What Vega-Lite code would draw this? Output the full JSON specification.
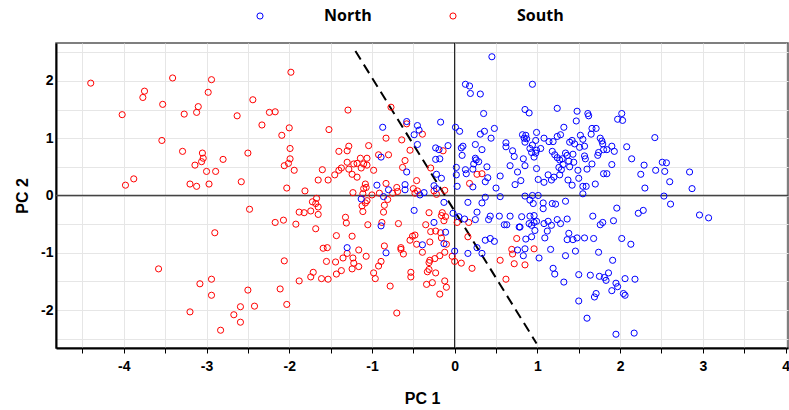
{
  "$schema": "https://vega.github.io/schema/vega-lite/v6.json",
  "width": 732,
  "height": 305,
  "autosize": "none",
  "padding": {"left": 56, "top": 43, "right": 1, "bottom": 62},
  "background": "white",
  "config": {
    "view": {"stroke": "#555555", "strokeWidth": 1.5},
    "axis": {
      "labelFont": "Liberation Sans", "labelFontSize": 14, "labelFontWeight": "bold", "labelColor": "#000000",
      "titleFont": "Liberation Sans", "titleFontSize": 16, "titleFontWeight": "bold", "titleColor": "#000000",
      "gridColor": "#e6e6e6", "gridWidth": 1,
      "domainColor": "#000000", "domainWidth": 2,
      "tickColor": "#000000", "labelOverlap": false
    }
  },
  "datasets": {
    "pts": [
      {"PC1":-4.40,"PC2":1.96,"Region":"South"},{"PC1":-4.02,"PC2":1.41,"Region":"South"},{"PC1":-3.98,"PC2":0.18,"Region":"South"},{"PC1":-3.88,"PC2":0.29,"Region":"South"},{"PC1":-3.75,"PC2":1.82,"Region":"South"},{"PC1":-3.77,"PC2":1.71,"Region":"South"},{"PC1":-3.41,"PC2":2.05,"Region":"South"},{"PC1":-3.53,"PC2":1.59,"Region":"South"},{"PC1":-3.54,"PC2":0.96,"Region":"South"},{"PC1":-3.27,"PC2":1.42,"Region":"South"},{"PC1":-3.29,"PC2":0.77,"Region":"South"},{"PC1":-2.94,"PC2":2.02,"Region":"South"},{"PC1":-2.98,"PC2":1.80,"Region":"South"},{"PC1":-3.10,"PC2":1.55,"Region":"South"},{"PC1":-3.12,"PC2":1.45,"Region":"South"},{"PC1":-3.05,"PC2":0.74,"Region":"South"},{"PC1":-3.04,"PC2":0.65,"Region":"South"},{"PC1":-3.06,"PC2":0.59,"Region":"South"},{"PC1":-3.14,"PC2":0.53,"Region":"South"},{"PC1":-3.00,"PC2":0.42,"Region":"South"},{"PC1":-2.89,"PC2":0.42,"Region":"South"},{"PC1":-2.80,"PC2":0.63,"Region":"South"},{"PC1":-3.20,"PC2":0.20,"Region":"South"},{"PC1":-3.12,"PC2":0.16,"Region":"South"},{"PC1":-2.97,"PC2":0.20,"Region":"South"},{"PC1":-2.63,"PC2":1.39,"Region":"South"},{"PC1":-2.44,"PC2":1.67,"Region":"South"},{"PC1":-2.58,"PC2":0.24,"Region":"South"},{"PC1":-2.50,"PC2":0.74,"Region":"South"},{"PC1":-2.33,"PC2":1.23,"Region":"South"},{"PC1":-2.24,"PC2":1.45,"Region":"South"},{"PC1":-2.17,"PC2":1.46,"Region":"South"},{"PC1":-2.09,"PC2":1.05,"Region":"South"},{"PC1":-2.06,"PC2":0.52,"Region":"South"},{"PC1":-2.00,"PC2":1.18,"Region":"South"},{"PC1":-2.01,"PC2":0.56,"Region":"South"},{"PC1":-1.99,"PC2":0.64,"Region":"South"},{"PC1":-2.03,"PC2":0.13,"Region":"South"},{"PC1":-1.98,"PC2":2.15,"Region":"South"},{"PC1":-1.99,"PC2":0.82,"Region":"South"},
      {"PC1":-2.48,"PC2":-0.24,"Region":"South"},{"PC1":-2.17,"PC2":-0.47,"Region":"South"},{"PC1":-2.07,"PC2":-0.43,"Region":"South"},{"PC1":-2.90,"PC2":-0.65,"Region":"South"},{"PC1":-2.06,"PC2":-1.14,"Region":"South"},{"PC1":-3.58,"PC2":-1.28,"Region":"South"},{"PC1":-2.94,"PC2":-1.46,"Region":"South"},{"PC1":-3.08,"PC2":-1.54,"Region":"South"},{"PC1":-2.94,"PC2":-1.74,"Region":"South"},{"PC1":-2.50,"PC2":-1.65,"Region":"South"},{"PC1":-2.11,"PC2":-1.63,"Region":"South"},{"PC1":-3.20,"PC2":-2.03,"Region":"South"},{"PC1":-2.67,"PC2":-2.08,"Region":"South"},{"PC1":-2.59,"PC2":-1.94,"Region":"South"},{"PC1":-2.42,"PC2":-1.93,"Region":"South"},{"PC1":-2.59,"PC2":-2.21,"Region":"South"},{"PC1":-2.83,"PC2":-2.35,"Region":"South"},{"PC1":-2.03,"PC2":-1.90,"Region":"South"},
      {"PC1":-1.29,"PC2":1.49,"Region":"South"},{"PC1":-0.77,"PC2":1.54,"Region":"South"},{"PC1":-1.52,"PC2":1.15,"Region":"South"},{"PC1":-1.94,"PC2":0.44,"Region":"South"},{"PC1":-1.81,"PC2":0.08,"Region":"South"},{"PC1":-1.67,"PC2":-0.05,"Region":"South"},{"PC1":-1.60,"PC2":0.45,"Region":"South"},{"PC1":-1.65,"PC2":0.27,"Region":"South"},{"PC1":-1.53,"PC2":0.27,"Region":"South"},{"PC1":-1.45,"PC2":0.36,"Region":"South"},{"PC1":-1.40,"PC2":0.44,"Region":"South"},{"PC1":-1.37,"PC2":0.48,"Region":"South"},{"PC1":-1.40,"PC2":0.77,"Region":"South"},{"PC1":-1.30,"PC2":0.78,"Region":"South"},{"PC1":-1.28,"PC2":0.86,"Region":"South"},{"PC1":-1.30,"PC2":0.58,"Region":"South"},{"PC1":-1.28,"PC2":0.46,"Region":"South"},{"PC1":-1.24,"PC2":0.37,"Region":"South"},{"PC1":-1.18,"PC2":0.32,"Region":"South"},{"PC1":-1.23,"PC2":0.05,"Region":"South"},{"PC1":-1.22,"PC2":0.55,"Region":"South"},{"PC1":-1.18,"PC2":0.56,"Region":"South"},{"PC1":-1.14,"PC2":0.65,"Region":"South"},{"PC1":-1.13,"PC2":0.48,"Region":"South"},{"PC1":-1.10,"PC2":0.55,"Region":"South"},{"PC1":-1.06,"PC2":0.65,"Region":"South"},{"PC1":-1.06,"PC2":0.53,"Region":"South"},{"PC1":-1.04,"PC2":0.87,"Region":"South"},{"PC1":-0.98,"PC2":0.44,"Region":"South"},{"PC1":-1.08,"PC2":0.20,"Region":"South"},{"PC1":-1.07,"PC2":0.14,"Region":"South"},{"PC1":-1.10,"PC2":0.12,"Region":"South"},{"PC1":-1.11,"PC2":0.03,"Region":"South"},{"PC1":-1.00,"PC2":0.01,"Region":"South"},{"PC1":-0.92,"PC2":0.71,"Region":"South"},{"PC1":-0.80,"PC2":0.71,"Region":"South"},{"PC1":-0.83,"PC2":1.00,"Region":"South"},{"PC1":-0.64,"PC2":0.97,"Region":"South"},{"PC1":-0.58,"PC2":1.25,"Region":"South"},{"PC1":-0.60,"PC2":0.61,"Region":"South"},{"PC1":-0.63,"PC2":0.49,"Region":"South"},{"PC1":-0.54,"PC2":0.79,"Region":"South"},{"PC1":-0.39,"PC2":1.07,"Region":"South"},{"PC1":-0.46,"PC2":0.26,"Region":"South"},{"PC1":-0.50,"PC2":0.12,"Region":"South"},{"PC1":-0.45,"PC2":0.08,"Region":"South"},{"PC1":-0.48,"PC2":0.04,"Region":"South"},{"PC1":-0.29,"PC2":0.48,"Region":"South"},{"PC1":-0.14,"PC2":0.78,"Region":"South"},{"PC1":-0.83,"PC2":0.21,"Region":"South"},{"PC1":-0.70,"PC2":0.14,"Region":"South"},{"PC1":-0.69,"PC2":0.07,"Region":"South"},{"PC1":-0.75,"PC2":0.04,"Region":"South"},{"PC1":-0.91,"PC2":0.04,"Region":"South"},{"PC1":-0.25,"PC2":0.08,"Region":"South"},{"PC1":-0.22,"PC2":0.02,"Region":"South"},{"PC1":-0.12,"PC2":0.09,"Region":"South"},{"PC1":0.27,"PC2":0.37,"Region":"South"},{"PC1":0.33,"PC2":0.38,"Region":"South"},{"PC1":0.18,"PC2":0.21,"Region":"South"},
      {"PC1":-1.72,"PC2":-0.11,"Region":"South"},{"PC1":-1.68,"PC2":-0.14,"Region":"South"},{"PC1":-1.65,"PC2":-0.20,"Region":"South"},{"PC1":-1.88,"PC2":-0.29,"Region":"South"},{"PC1":-1.82,"PC2":-0.30,"Region":"South"},{"PC1":-1.74,"PC2":-0.27,"Region":"South"},{"PC1":-1.65,"PC2":-0.33,"Region":"South"},{"PC1":-1.92,"PC2":-0.50,"Region":"South"},{"PC1":-1.68,"PC2":-0.58,"Region":"South"},{"PC1":-1.32,"PC2":-0.38,"Region":"South"},{"PC1":-1.31,"PC2":-0.48,"Region":"South"},{"PC1":-1.05,"PC2":-0.51,"Region":"South"},{"PC1":-1.43,"PC2":-0.70,"Region":"South"},{"PC1":-1.24,"PC2":-0.71,"Region":"South"},{"PC1":-1.59,"PC2":-0.92,"Region":"South"},{"PC1":-1.54,"PC2":-0.91,"Region":"South"},{"PC1":-1.55,"PC2":-1.15,"Region":"South"},{"PC1":-1.44,"PC2":-1.16,"Region":"South"},{"PC1":-1.35,"PC2":-1.09,"Region":"South"},{"PC1":-1.30,"PC2":-1.01,"Region":"South"},{"PC1":-1.23,"PC2":-1.09,"Region":"South"},{"PC1":-1.22,"PC2":-1.18,"Region":"South"},{"PC1":-1.16,"PC2":-0.95,"Region":"South"},{"PC1":-1.24,"PC2":-1.28,"Region":"South"},{"PC1":-1.16,"PC2":-1.24,"Region":"South"},{"PC1":-1.07,"PC2":-1.06,"Region":"South"},{"PC1":-1.37,"PC2":-1.31,"Region":"South"},{"PC1":-1.43,"PC2":-1.37,"Region":"South"},{"PC1":-1.71,"PC2":-1.34,"Region":"South"},{"PC1":-1.74,"PC2":-1.42,"Region":"South"},{"PC1":-1.61,"PC2":-1.45,"Region":"South"},{"PC1":-1.53,"PC2":-1.46,"Region":"South"},{"PC1":-1.88,"PC2":-1.49,"Region":"South"},{"PC1":-0.98,"PC2":-1.35,"Region":"South"},{"PC1":-0.96,"PC2":-1.45,"Region":"South"},{"PC1":-0.92,"PC2":-1.23,"Region":"South"},{"PC1":-0.89,"PC2":-1.15,"Region":"South"},{"PC1":-0.85,"PC2":-0.88,"Region":"South"},{"PC1":-0.78,"PC2":-1.58,"Region":"South"},{"PC1":-0.70,"PC2":-2.05,"Region":"South"},{"PC1":-0.68,"PC2":-0.49,"Region":"South"},{"PC1":-1.12,"PC2":-0.18,"Region":"South"},{"PC1":-1.11,"PC2":-0.28,"Region":"South"},{"PC1":-1.08,"PC2":-0.13,"Region":"South"},{"PC1":-1.06,"PC2":-0.09,"Region":"South"},{"PC1":-0.85,"PC2":-0.17,"Region":"South"},{"PC1":-0.86,"PC2":-0.29,"Region":"South"},{"PC1":-0.81,"PC2":-0.07,"Region":"South"},{"PC1":-0.88,"PC2":-0.47,"Region":"South"},{"PC1":-0.65,"PC2":-0.91,"Region":"South"},{"PC1":-0.65,"PC2":-0.94,"Region":"South"},{"PC1":-0.62,"PC2":-1.02,"Region":"South"},{"PC1":-0.54,"PC2":-0.78,"Region":"South"},{"PC1":-0.51,"PC2":-0.71,"Region":"South"},{"PC1":-0.48,"PC2":-0.69,"Region":"South"},{"PC1":-0.46,"PC2":-0.85,"Region":"South"},{"PC1":-0.39,"PC2":-0.99,"Region":"South"},{"PC1":-0.53,"PC2":-1.34,"Region":"South"},{"PC1":-0.53,"PC2":-1.42,"Region":"South"},{"PC1":-0.35,"PC2":-0.51,"Region":"South"},{"PC1":-0.31,"PC2":-0.30,"Region":"South"},{"PC1":-0.30,"PC2":-0.81,"Region":"South"},{"PC1":-0.31,"PC2":-1.17,"Region":"South"},{"PC1":-0.31,"PC2":-1.29,"Region":"South"},{"PC1":-0.33,"PC2":-1.33,"Region":"South"},{"PC1":-0.23,"PC2":-1.35,"Region":"South"},{"PC1":-0.34,"PC2":-1.55,"Region":"South"},{"PC1":-0.27,"PC2":-1.52,"Region":"South"},{"PC1":-0.12,"PC2":-1.49,"Region":"South"},{"PC1":-0.10,"PC2":-1.60,"Region":"South"},{"PC1":-0.18,"PC2":-1.72,"Region":"South"},{"PC1":-0.29,"PC2":-0.63,"Region":"South"},{"PC1":-0.23,"PC2":-0.62,"Region":"South"},{"PC1":-0.17,"PC2":-0.65,"Region":"South"},{"PC1":-0.16,"PC2":-0.74,"Region":"South"},{"PC1":-0.10,"PC2":-0.85,"Region":"South"},{"PC1":-0.12,"PC2":-0.99,"Region":"South"},{"PC1":-0.18,"PC2":-1.05,"Region":"South"},{"PC1":-0.24,"PC2":-1.10,"Region":"South"},{"PC1":-0.30,"PC2":-1.13,"Region":"South"},{"PC1":-0.03,"PC2":-1.06,"Region":"South"},{"PC1":0.00,"PC2":-1.15,"Region":"South"},{"PC1":0.08,"PC2":-1.18,"Region":"South"},{"PC1":0.21,"PC2":-1.27,"Region":"South"},{"PC1":-0.15,"PC2":-0.30,"Region":"South"},{"PC1":-0.16,"PC2":-0.35,"Region":"South"},{"PC1":-0.11,"PC2":-0.37,"Region":"South"},{"PC1":-0.13,"PC2":-0.44,"Region":"South"},{"PC1":0.03,"PC2":-0.47,"Region":"South"},{"PC1":0.17,"PC2":-0.47,"Region":"South"},{"PC1":0.16,"PC2":-0.72,"Region":"South"},{"PC1":0.55,"PC2":-1.13,"Region":"South"},{"PC1":0.62,"PC2":-1.46,"Region":"South"},{"PC1":0.69,"PC2":-0.94,"Region":"South"},{"PC1":0.70,"PC2":-1.02,"Region":"South"},{"PC1":0.72,"PC2":-1.19,"Region":"South"},{"PC1":0.75,"PC2":-0.75,"Region":"South"},{"PC1":0.96,"PC2":-0.93,"Region":"South"},{"PC1":0.85,"PC2":-1.21,"Region":"South"},
      {"PC1":0.45,"PC2":2.42,"Region":"North"},{"PC1":0.13,"PC2":1.94,"Region":"North"},{"PC1":0.18,"PC2":1.91,"Region":"North"},{"PC1":0.19,"PC2":1.78,"Region":"North"},{"PC1":0.31,"PC2":1.77,"Region":"North"},{"PC1":0.35,"PC2":1.43,"Region":"North"},{"PC1":-0.87,"PC2":1.19,"Region":"North"},{"PC1":-0.58,"PC2":1.29,"Region":"North"},{"PC1":-0.45,"PC2":1.22,"Region":"North"},{"PC1":-0.43,"PC2":1.14,"Region":"North"},{"PC1":-0.49,"PC2":1.06,"Region":"North"},{"PC1":-0.17,"PC2":1.28,"Region":"North"},{"PC1":-0.45,"PC2":0.89,"Region":"North"},{"PC1":-0.23,"PC2":0.83,"Region":"North"},{"PC1":-0.19,"PC2":0.80,"Region":"North"},{"PC1":-0.08,"PC2":0.87,"Region":"North"},{"PC1":-0.23,"PC2":0.63,"Region":"North"},{"PC1":-0.18,"PC2":0.64,"Region":"North"},{"PC1":-0.89,"PC2":0.67,"Region":"North"},{"PC1":-0.58,"PC2":0.41,"Region":"North"},{"PC1":-0.22,"PC2":0.37,"Region":"North"},{"PC1":-0.16,"PC2":0.30,"Region":"North"},{"PC1":-0.25,"PC2":0.17,"Region":"North"},{"PC1":-0.22,"PC2":0.12,"Region":"North"},{"PC1":-0.60,"PC2":0.19,"Region":"North"},{"PC1":-0.60,"PC2":0.10,"Region":"North"},{"PC1":-0.94,"PC2":0.18,"Region":"North"},{"PC1":-0.80,"PC2":0.10,"Region":"North"},{"PC1":-0.86,"PC2":-0.02,"Region":"North"},{"PC1":-1.13,"PC2":-0.06,"Region":"North"},{"PC1":-0.42,"PC2":0.01,"Region":"North"},{"PC1":-0.37,"PC2":0.05,"Region":"North"},{"PC1":0.01,"PC2":1.19,"Region":"North"},{"PC1":0.06,"PC2":1.12,"Region":"North"},{"PC1":0.36,"PC2":1.12,"Region":"North"},{"PC1":0.31,"PC2":1.07,"Region":"North"},{"PC1":0.48,"PC2":1.17,"Region":"North"},{"PC1":0.44,"PC2":1.00,"Region":"North"},{"PC1":0.08,"PC2":0.83,"Region":"North"},{"PC1":0.10,"PC2":0.86,"Region":"North"},{"PC1":0.09,"PC2":0.70,"Region":"North"},{"PC1":0.25,"PC2":0.89,"Region":"North"},{"PC1":0.33,"PC2":0.80,"Region":"North"},{"PC1":0.25,"PC2":0.65,"Region":"North"},{"PC1":0.26,"PC2":0.62,"Region":"North"},{"PC1":0.23,"PC2":0.55,"Region":"North"},{"PC1":0.29,"PC2":0.59,"Region":"North"},{"PC1":0.22,"PC2":0.46,"Region":"North"},{"PC1":0.39,"PC2":0.50,"Region":"North"},{"PC1":0.13,"PC2":0.45,"Region":"North"},{"PC1":0.02,"PC2":0.49,"Region":"North"},{"PC1":0.02,"PC2":0.36,"Region":"North"},{"PC1":0.14,"PC2":0.38,"Region":"North"},{"PC1":0.03,"PC2":0.16,"Region":"North"},{"PC1":0.22,"PC2":0.15,"Region":"North"},{"PC1":0.37,"PC2":0.24,"Region":"North"},{"PC1":0.40,"PC2":0.31,"Region":"North"},{"PC1":0.50,"PC2":0.13,"Region":"North"},{"PC1":0.55,"PC2":0.34,"Region":"North"},{"PC1":0.67,"PC2":0.52,"Region":"North"},{"PC1":0.62,"PC2":0.92,"Region":"North"},{"PC1":0.62,"PC2":0.85,"Region":"North"},{"PC1":0.70,"PC2":0.78,"Region":"North"},{"PC1":0.72,"PC2":0.68,"Region":"North"},{"PC1":0.76,"PC2":0.41,"Region":"North"},{"PC1":0.73,"PC2":0.19,"Region":"North"},
      {"PC1":-1.30,"PC2":-0.91,"Region":"North"},{"PC1":-0.83,"PC2":-1.00,"Region":"North"},{"PC1":-0.89,"PC2":-0.53,"Region":"North"},{"PC1":-0.49,"PC2":-0.26,"Region":"North"},{"PC1":-0.39,"PC2":-0.86,"Region":"North"},{"PC1":-0.25,"PC2":-0.47,"Region":"North"},{"PC1":-0.13,"PC2":-0.12,"Region":"North"},{"PC1":-0.13,"PC2":-0.84,"Region":"North"},{"PC1":-0.02,"PC2":-0.31,"Region":"North"},{"PC1":0.00,"PC2":-0.97,"Region":"North"},{"PC1":0.05,"PC2":-0.37,"Region":"North"},{"PC1":0.12,"PC2":-0.41,"Region":"North"},{"PC1":0.25,"PC2":-0.42,"Region":"North"},{"PC1":0.27,"PC2":-0.29,"Region":"North"},{"PC1":0.16,"PC2":-0.12,"Region":"North"},{"PC1":0.33,"PC2":-0.13,"Region":"North"},{"PC1":0.37,"PC2":-0.03,"Region":"North"},{"PC1":0.43,"PC2":-0.36,"Region":"North"},{"PC1":0.54,"PC2":-0.36,"Region":"North"},{"PC1":0.67,"PC2":-0.36,"Region":"North"},{"PC1":0.41,"PC2":-0.42,"Region":"North"},{"PC1":0.60,"PC2":-0.51,"Region":"North"},{"PC1":0.63,"PC2":-0.51,"Region":"North"},{"PC1":0.78,"PC2":-0.55,"Region":"North"},{"PC1":0.16,"PC2":-1.01,"Region":"North"},{"PC1":0.27,"PC2":-0.91,"Region":"North"},{"PC1":0.33,"PC2":-1.01,"Region":"North"},{"PC1":0.37,"PC2":-0.78,"Region":"North"},{"PC1":0.43,"PC2":-0.75,"Region":"North"},{"PC1":0.48,"PC2":-0.80,"Region":"North"},{"PC1":0.76,"PC2":-0.95,"Region":"North"},{"PC1":0.55,"PC2":-0.02,"Region":"North"},{"PC1":-0.11,"PC2":-0.64,"Region":"North"},
      {"PC1":0.94,"PC2":1.94,"Region":"North"},{"PC1":0.85,"PC2":1.50,"Region":"North"},{"PC1":0.90,"PC2":1.44,"Region":"North"},{"PC1":1.24,"PC2":1.52,"Region":"North"},{"PC1":1.48,"PC2":1.47,"Region":"North"},{"PC1":1.47,"PC2":1.30,"Region":"North"},{"PC1":1.61,"PC2":1.43,"Region":"North"},{"PC1":1.62,"PC2":1.39,"Region":"North"},{"PC1":2.02,"PC2":1.43,"Region":"North"},{"PC1":1.97,"PC2":1.33,"Region":"North"},{"PC1":2.03,"PC2":1.31,"Region":"North"},{"PC1":2.42,"PC2":1.01,"Region":"North"},{"PC1":1.32,"PC2":1.19,"Region":"North"},{"PC1":1.66,"PC2":1.17,"Region":"North"},{"PC1":1.71,"PC2":1.17,"Region":"North"},{"PC1":1.65,"PC2":1.07,"Region":"North"},{"PC1":0.99,"PC2":1.10,"Region":"North"},{"PC1":0.82,"PC2":1.06,"Region":"North"},{"PC1":0.86,"PC2":1.05,"Region":"North"},{"PC1":0.84,"PC2":1.00,"Region":"North"},{"PC1":0.87,"PC2":0.99,"Region":"North"},{"PC1":0.85,"PC2":0.93,"Region":"North"},{"PC1":0.98,"PC2":0.96,"Region":"North"},{"PC1":1.08,"PC2":1.00,"Region":"North"},{"PC1":1.14,"PC2":0.94,"Region":"North"},{"PC1":1.19,"PC2":0.94,"Region":"North"},{"PC1":1.24,"PC2":1.03,"Region":"North"},{"PC1":1.28,"PC2":1.06,"Region":"North"},{"PC1":1.52,"PC2":1.05,"Region":"North"},{"PC1":1.55,"PC2":0.98,"Region":"North"},{"PC1":1.76,"PC2":1.00,"Region":"North"},{"PC1":1.78,"PC2":0.95,"Region":"North"},{"PC1":1.79,"PC2":0.90,"Region":"North"},{"PC1":1.39,"PC2":0.93,"Region":"North"},{"PC1":1.42,"PC2":0.96,"Region":"North"},{"PC1":1.45,"PC2":0.90,"Region":"North"},{"PC1":0.94,"PC2":0.88,"Region":"North"},{"PC1":0.91,"PC2":0.82,"Region":"North"},{"PC1":0.99,"PC2":0.79,"Region":"North"},{"PC1":0.93,"PC2":0.75,"Region":"North"},{"PC1":0.98,"PC2":0.74,"Region":"North"},{"PC1":1.04,"PC2":0.82,"Region":"North"},{"PC1":0.83,"PC2":0.64,"Region":"North"},{"PC1":0.96,"PC2":0.67,"Region":"North"},{"PC1":0.85,"PC2":0.52,"Region":"North"},{"PC1":0.99,"PC2":0.47,"Region":"North"},{"PC1":1.18,"PC2":0.77,"Region":"North"},{"PC1":1.21,"PC2":0.71,"Region":"North"},{"PC1":1.24,"PC2":0.66,"Region":"North"},{"PC1":1.27,"PC2":0.62,"Region":"North"},{"PC1":1.30,"PC2":0.64,"Region":"North"},{"PC1":1.34,"PC2":0.74,"Region":"North"},{"PC1":1.36,"PC2":0.70,"Region":"North"},{"PC1":1.43,"PC2":0.72,"Region":"North"},{"PC1":1.51,"PC2":0.84,"Region":"North"},{"PC1":1.57,"PC2":0.86,"Region":"North"},{"PC1":1.57,"PC2":0.69,"Region":"North"},{"PC1":1.58,"PC2":0.64,"Region":"North"},{"PC1":1.38,"PC2":0.60,"Region":"North"},{"PC1":1.44,"PC2":0.58,"Region":"North"},{"PC1":1.26,"PC2":0.49,"Region":"North"},{"PC1":1.29,"PC2":0.45,"Region":"North"},{"PC1":1.31,"PC2":0.54,"Region":"North"},{"PC1":1.39,"PC2":0.50,"Region":"North"},{"PC1":1.49,"PC2":0.44,"Region":"North"},{"PC1":1.60,"PC2":0.46,"Region":"North"},{"PC1":1.66,"PC2":0.55,"Region":"North"},{"PC1":1.73,"PC2":0.70,"Region":"North"},{"PC1":1.74,"PC2":0.75,"Region":"North"},{"PC1":1.80,"PC2":0.80,"Region":"North"},{"PC1":1.84,"PC2":0.80,"Region":"North"},{"PC1":1.90,"PC2":0.86,"Region":"North"},{"PC1":1.93,"PC2":0.77,"Region":"North"},{"PC1":1.90,"PC2":0.54,"Region":"North"},{"PC1":1.80,"PC2":0.38,"Region":"North"},{"PC1":1.84,"PC2":0.38,"Region":"North"},{"PC1":2.08,"PC2":0.85,"Region":"North"},{"PC1":2.14,"PC2":0.64,"Region":"North"},{"PC1":2.29,"PC2":0.53,"Region":"North"},{"PC1":2.25,"PC2":0.37,"Region":"North"},{"PC1":2.43,"PC2":0.44,"Region":"North"},{"PC1":2.51,"PC2":0.58,"Region":"North"},{"PC1":2.56,"PC2":0.57,"Region":"North"},{"PC1":2.54,"PC2":0.42,"Region":"North"},{"PC1":2.60,"PC2":0.24,"Region":"North"},{"PC1":2.84,"PC2":0.41,"Region":"North"},{"PC1":2.87,"PC2":0.12,"Region":"North"},{"PC1":2.30,"PC2":0.13,"Region":"North"},{"PC1":2.53,"PC2":-0.01,"Region":"North"},{"PC1":1.70,"PC2":0.20,"Region":"North"},{"PC1":1.55,"PC2":0.16,"Region":"North"},{"PC1":1.59,"PC2":0.16,"Region":"North"},{"PC1":1.55,"PC2":0.03,"Region":"North"},{"PC1":1.50,"PC2":0.30,"Region":"North"},{"PC1":1.42,"PC2":0.18,"Region":"North"},{"PC1":1.37,"PC2":0.27,"Region":"North"},{"PC1":1.20,"PC2":0.32,"Region":"North"},{"PC1":1.13,"PC2":0.36,"Region":"North"},{"PC1":1.17,"PC2":0.27,"Region":"North"},{"PC1":1.08,"PC2":0.23,"Region":"North"},{"PC1":1.01,"PC2":0.28,"Region":"North"},{"PC1":1.27,"PC2":0.36,"Region":"North"},{"PC1":0.80,"PC2":0.26,"Region":"North"},{"PC1":0.85,"PC2":-0.01,"Region":"North"},{"PC1":0.94,"PC2":0.00,"Region":"North"},{"PC1":1.01,"PC2":0.00,"Region":"North"},
      {"PC1":0.91,"PC2":-0.08,"Region":"North"},{"PC1":0.95,"PC2":-0.14,"Region":"North"},{"PC1":1.07,"PC2":-0.13,"Region":"North"},{"PC1":1.07,"PC2":-0.23,"Region":"North"},{"PC1":1.18,"PC2":-0.14,"Region":"North"},{"PC1":1.22,"PC2":-0.15,"Region":"North"},{"PC1":1.34,"PC2":-0.10,"Region":"North"},{"PC1":1.96,"PC2":-0.22,"Region":"North"},{"PC1":1.67,"PC2":-0.36,"Region":"North"},{"PC1":1.92,"PC2":-0.44,"Region":"North"},{"PC1":1.76,"PC2":-0.51,"Region":"North"},{"PC1":1.79,"PC2":-0.47,"Region":"North"},{"PC1":2.22,"PC2":-0.31,"Region":"North"},{"PC1":2.28,"PC2":-0.26,"Region":"North"},{"PC1":2.61,"PC2":-0.15,"Region":"North"},{"PC1":2.96,"PC2":-0.34,"Region":"North"},{"PC1":3.07,"PC2":-0.39,"Region":"North"},{"PC1":0.81,"PC2":-0.37,"Region":"North"},{"PC1":0.91,"PC2":-0.36,"Region":"North"},{"PC1":0.96,"PC2":-0.35,"Region":"North"},{"PC1":0.90,"PC2":-0.49,"Region":"North"},{"PC1":0.96,"PC2":-0.47,"Region":"North"},{"PC1":0.99,"PC2":-0.45,"Region":"North"},{"PC1":0.93,"PC2":-0.52,"Region":"North"},{"PC1":0.97,"PC2":-0.61,"Region":"North"},{"PC1":0.79,"PC2":-0.55,"Region":"North"},{"PC1":1.08,"PC2":-0.49,"Region":"North"},{"PC1":1.13,"PC2":-0.45,"Region":"North"},{"PC1":1.17,"PC2":-0.52,"Region":"North"},{"PC1":1.12,"PC2":-0.62,"Region":"North"},{"PC1":1.24,"PC2":-0.42,"Region":"North"},{"PC1":1.28,"PC2":-0.49,"Region":"North"},{"PC1":1.36,"PC2":-0.41,"Region":"North"},{"PC1":0.93,"PC2":-0.72,"Region":"North"},{"PC1":0.86,"PC2":-0.76,"Region":"North"},{"PC1":1.09,"PC2":-0.74,"Region":"North"},{"PC1":1.38,"PC2":-0.66,"Region":"North"},{"PC1":1.36,"PC2":-0.77,"Region":"North"},{"PC1":1.43,"PC2":-0.77,"Region":"North"},{"PC1":1.48,"PC2":-0.74,"Region":"North"},{"PC1":1.57,"PC2":-0.74,"Region":"North"},{"PC1":1.68,"PC2":-0.75,"Region":"North"},{"PC1":2.02,"PC2":-0.75,"Region":"North"},{"PC1":2.13,"PC2":-0.85,"Region":"North"},{"PC1":0.85,"PC2":-0.93,"Region":"North"},{"PC1":0.83,"PC2":-1.05,"Region":"North"},{"PC1":1.02,"PC2":-1.09,"Region":"North"},{"PC1":1.16,"PC2":-0.94,"Region":"North"},{"PC1":1.34,"PC2":-1.05,"Region":"North"},{"PC1":1.46,"PC2":-0.97,"Region":"North"},{"PC1":1.74,"PC2":-0.99,"Region":"North"},{"PC1":1.91,"PC2":-1.13,"Region":"North"},{"PC1":1.19,"PC2":-1.27,"Region":"North"},{"PC1":1.21,"PC2":-1.37,"Region":"North"},{"PC1":1.32,"PC2":-1.51,"Region":"North"},{"PC1":1.50,"PC2":-1.38,"Region":"North"},{"PC1":1.64,"PC2":-1.39,"Region":"North"},{"PC1":1.75,"PC2":-1.41,"Region":"North"},{"PC1":1.81,"PC2":-1.43,"Region":"North"},{"PC1":1.86,"PC2":-1.35,"Region":"North"},{"PC1":1.83,"PC2":-1.48,"Region":"North"},{"PC1":1.95,"PC2":-1.53,"Region":"North"},{"PC1":1.97,"PC2":-1.59,"Region":"North"},{"PC1":1.90,"PC2":-1.66,"Region":"North"},{"PC1":2.06,"PC2":-1.45,"Region":"North"},{"PC1":2.18,"PC2":-1.46,"Region":"North"},{"PC1":2.04,"PC2":-1.71,"Region":"North"},{"PC1":2.06,"PC2":-1.74,"Region":"North"},{"PC1":1.71,"PC2":-1.71,"Region":"North"},{"PC1":1.69,"PC2":-1.77,"Region":"North"},{"PC1":1.50,"PC2":-1.84,"Region":"North"},{"PC1":1.60,"PC2":-2.14,"Region":"North"},{"PC1":1.95,"PC2":-2.42,"Region":"North"},{"PC1":2.17,"PC2":-2.40,"Region":"North"}
    ],
    "divider": [
      {"PC1": -1.2, "PC2": 2.52},
      {"PC1": 0.99, "PC2": -2.58}
    ],
    "zero": [{"v": 0}]
  },
  "encoding": {
    "x": {"type": "quantitative", "scale": {"domain": [-4.82, 4.03], "nice": false, "zero": false},
          "axis": {"title": "PC 1", "values": [-4.5,-4,-3.5,-3,-2.5,-2,-1.5,-1,-0.5,0,0.5,1,1.5,2,2.5,3,3.5,4],
                   "labelExpr": "datum.value % 1 === 0 ? '' + datum.value : ''",
                   "tickSize": 5, "labelPadding": 6, "titlePadding": 17, "grid": true}},
    "y": {"type": "quantitative", "scale": {"domain": [-2.66, 2.66], "nice": false, "zero": false},
          "axis": {"title": "PC 2", "values": [-2.5,-2,-1.5,-1,-0.5,0,0.5,1,1.5,2,2.5],
                   "labelExpr": "datum.value % 1 === 0 ? '' + datum.value : ''",
                   "tickSize": 0, "labelPadding": 3, "titlePadding": 10, "grid": true}}
  },
  "layer": [
    {
      "data": {"name": "zero"},
      "mark": {"type": "rule", "color": "#000000", "strokeWidth": 1},
      "encoding": {"x": {"field": "v"}}
    },
    {
      "data": {"name": "zero"},
      "mark": {"type": "rule", "color": "#444444", "strokeWidth": 1.5},
      "encoding": {"y": {"field": "v"}}
    },
    {
      "data": {"name": "divider"},
      "mark": {"type": "line", "color": "#000000", "strokeWidth": 2, "strokeDash": [10, 6]},
      "encoding": {
        "x": {"field": "PC1"},
        "y": {"field": "PC2"}
      }
    },
    {
      "data": {"name": "pts"},
      "mark": {"type": "point", "shape": "circle", "filled": false, "size": 38, "strokeWidth": 1, "opacity": 1},
      "encoding": {
        "x": {"field": "PC1"},
        "y": {"field": "PC2"},
        "color": {
          "field": "Region", "type": "nominal",
          "scale": {"domain": ["North", "South"], "range": ["#0000ff", "#ff0000"]},
          "legend": {
            "title": null, "orient": "none", "legendX": 196, "legendY": -35, "direction": "horizontal",
            "labelOffset": 56, "columnPadding": 73, "padding": 0,
            "symbolSize": 38, "symbolStrokeWidth": 1, "symbolType": "circle",
            "labelFont": "Open Sans", "labelFontSize": 16, "labelFontWeight": "bold", "labelColor": "#000000"
          }
        }
      }
    }
  ]
}
